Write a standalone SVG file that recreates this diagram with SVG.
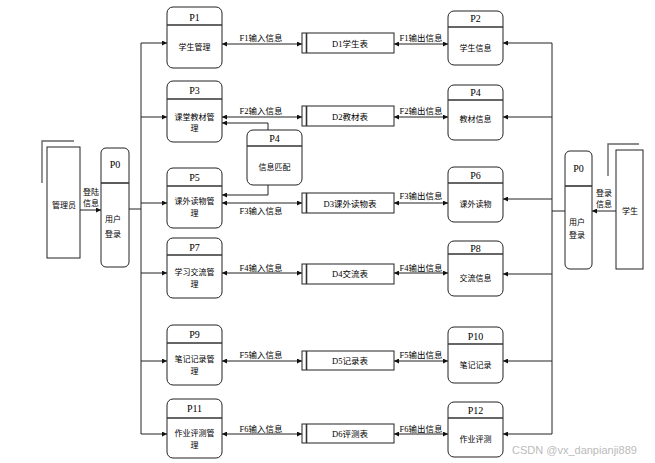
<svg xmlns="http://www.w3.org/2000/svg" width="655" height="463" viewBox="0 0 655 463">
  <defs>
    <marker id="ah" viewBox="0 0 6 6" refX="6" refY="3" markerWidth="5" markerHeight="5" markerUnits="userSpaceOnUse" orient="auto-start-reverse">
      <path d="M0,0 L6,3 L0,6 z" fill="#111"/>
    </marker>
    <style>
      .bg{fill:#fff}
      .box{fill:#fff;stroke:#222;stroke-width:1}
      .div{stroke:#333;stroke-width:1.6}
      .ln{fill:none;stroke:#222;stroke-width:1}
      .gr{fill:none;stroke:#666;stroke-width:1.4}
      .arr{fill:none;stroke:#222;stroke-width:1;marker-end:url(#ah)}
      .bi{fill:none;stroke:#222;stroke-width:1;marker-start:url(#ah);marker-end:url(#ah)}
      text{font-family:"Liberation Serif","Noto Sans CJK SC",serif;font-size:8.5px;fill:#000;dominant-baseline:central}
      .c{text-anchor:middle}
      .pid{font-size:10px}
      .cn{font-family:"Noto Sans CJK SC","Liberation Sans",sans-serif;font-size:8px}
    </style>
  </defs>
  <rect class="bg" x="0" y="0" width="655" height="463"/>

  <!-- connectors -->
  <g id="connectors">
    <!-- left bus -->
    <path class="ln" d="M141,43 V434"/>
    <path class="ln" d="M129,209 H141"/>
    <path class="arr" d="M141,43 H167"/>
    <path class="arr" d="M141,117 H167"/>
    <path class="arr" d="M141,203 H167"/>
    <path class="arr" d="M141,273 H167"/>
    <path class="arr" d="M141,361 H167"/>
    <path class="arr" d="M141,434 H167"/>
    <!-- right bus -->
    <path class="ln" d="M552,43 V434"/>
    <path class="ln" d="M565,211 H552"/>
    <path class="arr" d="M552,43 H503"/>
    <path class="arr" d="M552,117 H503"/>
    <path class="arr" d="M552,199 H503"/>
    <path class="arr" d="M552,274 H503"/>
    <path class="arr" d="M552,361 H503"/>
    <path class="arr" d="M552,434 H503"/>
    <!-- externals to login -->
    <path class="arr" d="M80,210 H101"/>
    <path class="arr" d="M616,211 H592"/>
    <!-- P4 matching -->
    <path class="arr" d="M268,130 V123 H222"/>
    <path class="arr" d="M268,185 V195 H222"/>
    <!-- input flows -->
    <path class="bi" d="M222,44 H302"/>
    <path class="bi" d="M222,117 H302"/>
    <path class="bi" d="M222,203 H302"/>
    <path class="bi" d="M222,273 H302"/>
    <path class="bi" d="M222,361 H302"/>
    <path class="bi" d="M222,434 H302"/>
    <!-- output flows -->
    <path class="bi" d="M394,44 H448"/>
    <path class="bi" d="M394,117 H448"/>
    <path class="bi" d="M394,203 H448"/>
    <path class="bi" d="M394,273 H448"/>
    <path class="bi" d="M394,361 H448"/>
    <path class="bi" d="M394,434 H448"/>
    <!-- flow labels -->
    <text class="c" x="261" y="38">F1输入信息</text>
    <text class="c" x="261" y="111">F2输入信息</text>
    <text class="c" x="261" y="211">F3输入信息</text>
    <text class="c" x="261" y="268">F4输入信息</text>
    <text class="c" x="261" y="355">F5输入信息</text>
    <text class="c" x="261" y="429">F6输入信息</text>
    <text class="c" x="421" y="38">F1输出信息</text>
    <text class="c" x="421" y="111">F2输出信息</text>
    <text class="c" x="421" y="196">F3输出信息</text>
    <text class="c" x="421" y="268">F4输出信息</text>
    <text class="c" x="421" y="355">F5输出信息</text>
    <text class="c" x="421" y="429">F6输出信息</text>
    <text class="cn" x="83" y="191">登陆</text>
    <text class="cn" x="83" y="202">信息</text>
    <text class="cn" x="596" y="192">登录</text>
    <text class="cn" x="596" y="203">信息</text>
  </g>

  <!-- external entities -->
  <g id="admin">
    <path class="gr" d="M42,183 V141 H74"/>
    <rect class="box" x="47" y="147" width="33" height="111"/>
    <text class="cn c" x="64" y="204">管理员</text>
  </g>
  <g id="student">
    <path class="gr" d="M608,176 V144 H639"/>
    <rect class="box" x="616" y="150" width="27" height="119"/>
    <text class="cn c" x="630" y="210">学生</text>
  </g>

  <!-- login processes -->
  <g id="p0-left">
    <rect class="box" x="101" y="148" width="28" height="119" rx="5"/>
    <path class="div" d="M101,183 H129"/>
    <text class="pid c" x="115" y="164">P0</text>
    <text class="cn" x="105" y="218">用户</text>
    <text class="cn" x="105" y="233">登录</text>
  </g>
  <g id="p0-right">
    <rect class="box" x="565" y="151" width="27" height="118" rx="5"/>
    <path class="div" d="M565,186 H592"/>
    <text class="pid c" x="578.5" y="168">P0</text>
    <text class="cn" x="569" y="221">用户</text>
    <text class="cn" x="569" y="234">登录</text>
  </g>

  <!-- management processes -->
  <g id="p1">
    <rect class="box" x="167" y="7" width="55" height="61" rx="6"/>
    <path class="div" d="M167,25 H222"/>
    <text class="pid c" x="194.5" y="17">P1</text>
    <text class="cn c" x="194.5" y="46">学生管理</text>
  </g>
  <g id="p3">
    <rect class="box" x="167" y="81" width="55" height="61" rx="6"/>
    <path class="div" d="M167,99 H222"/>
    <text class="pid c" x="194.5" y="90">P3</text>
    <text class="cn c" x="194.5" y="116">课堂教材管</text>
    <text class="cn c" x="194.5" y="127">理</text>
  </g>
  <g id="p5">
    <rect class="box" x="167" y="168" width="55" height="60" rx="6"/>
    <path class="div" d="M167,186 H222"/>
    <text class="pid c" x="194.5" y="177">P5</text>
    <text class="cn c" x="194.5" y="200">课外读物管</text>
    <text class="cn c" x="194.5" y="212">理</text>
  </g>
  <g id="p7">
    <rect class="box" x="167" y="238" width="55" height="60" rx="6"/>
    <path class="div" d="M167,255 H222"/>
    <text class="pid c" x="194.5" y="247">P7</text>
    <text class="cn c" x="194.5" y="271">学习交流管</text>
    <text class="cn c" x="194.5" y="283">理</text>
  </g>
  <g id="p9">
    <rect class="box" x="167" y="325" width="55" height="60" rx="6"/>
    <path class="div" d="M167,343 H222"/>
    <text class="pid c" x="194.5" y="334">P9</text>
    <text class="cn c" x="194.5" y="358">笔记记录管</text>
    <text class="cn c" x="194.5" y="370">理</text>
  </g>
  <g id="p11">
    <rect class="box" x="167" y="399" width="55" height="59" rx="6"/>
    <path class="div" d="M167,418 H222"/>
    <text class="pid c" x="194.5" y="408">P11</text>
    <text class="cn c" x="194.5" y="432">作业评测管</text>
    <text class="cn c" x="194.5" y="444">理</text>
  </g>
  <g id="p4-match">
    <rect class="box" x="247" y="130" width="55" height="55" rx="6"/>
    <path class="div" d="M247,146 H302"/>
    <text class="pid c" x="274.5" y="138">P4</text>
    <text class="cn c" x="274.5" y="166">信息匹配</text>
  </g>

  <!-- data stores -->
  <g id="d1">
    <rect class="box" x="302" y="33" width="92" height="20"/>
    <path class="div" d="M306.5,33 V53"/>
    <text class="c" x="350" y="43.5">D1学生表</text>
  </g>
  <g id="d2">
    <rect class="box" x="302" y="106" width="92" height="20"/>
    <path class="div" d="M306.5,106 V126"/>
    <text class="c" x="350" y="116.5">D2教材表</text>
  </g>
  <g id="d3">
    <rect class="box" x="302" y="193" width="92" height="20"/>
    <path class="div" d="M306.5,193 V213"/>
    <text class="c" x="350" y="203.5">D3课外读物表</text>
  </g>
  <g id="d4">
    <rect class="box" x="302" y="264" width="92" height="20"/>
    <path class="div" d="M306.5,264 V284"/>
    <text class="c" x="350" y="274">D4交流表</text>
  </g>
  <g id="d5">
    <rect class="box" x="302" y="351" width="92" height="19"/>
    <path class="div" d="M306.5,351 V370"/>
    <text class="c" x="350" y="361">D5记录表</text>
  </g>
  <g id="d6">
    <rect class="box" x="302" y="424" width="92" height="19"/>
    <path class="div" d="M306.5,424 V443"/>
    <text class="c" x="350" y="434">D6评测表</text>
  </g>

  <!-- information views -->
  <g id="p2">
    <rect class="box" x="448" y="11" width="55" height="54" rx="6"/>
    <path class="div" d="M448,27 H503"/>
    <text class="pid c" x="475.5" y="18.5">P2</text>
    <text class="cn c" x="475.5" y="47">学生信息</text>
  </g>
  <g id="p4">
    <rect class="box" x="448" y="85" width="55" height="55" rx="6"/>
    <path class="div" d="M448,100 H503"/>
    <text class="pid c" x="475.5" y="92">P4</text>
    <text class="cn c" x="475.5" y="118">教材信息</text>
  </g>
  <g id="p6">
    <rect class="box" x="448" y="167" width="55" height="55" rx="6"/>
    <path class="div" d="M448,183 H503"/>
    <text class="pid c" x="475.5" y="175">P6</text>
    <text class="cn c" x="475.5" y="203">课外读物</text>
  </g>
  <g id="p8">
    <rect class="box" x="448" y="241" width="55" height="55" rx="6"/>
    <path class="div" d="M448,254 H503"/>
    <text class="pid c" x="475.5" y="248">P8</text>
    <text class="cn c" x="475.5" y="277">交流信息</text>
  </g>
  <g id="p10">
    <rect class="box" x="448" y="327" width="55" height="56" rx="6"/>
    <path class="div" d="M448,344 H503"/>
    <text class="pid c" x="475.5" y="336">P10</text>
    <text class="cn c" x="475.5" y="364">笔记记录</text>
  </g>
  <g id="p12">
    <rect class="box" x="448" y="402" width="55" height="55" rx="6"/>
    <path class="div" d="M448,418 H503"/>
    <text class="pid c" x="475.5" y="410">P12</text>
    <text class="cn c" x="475.5" y="438">作业评测</text>
  </g>

  <text x="512" y="450" style="font-family:'Liberation Sans',sans-serif;font-size:11px;fill:#bbb">CSDN @vx_danpianji889</text>
</svg>
